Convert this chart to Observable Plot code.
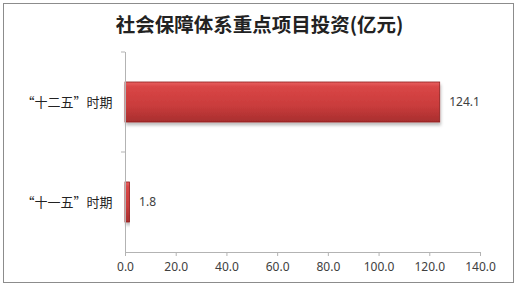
<!DOCTYPE html>
<html>
<head>
<meta charset="utf-8">
<script src="https://cdn.jsdelivr.net/npm/d3@7"></script>
<script src="https://cdn.jsdelivr.net/npm/@observablehq/plot@0.6"></script>
<style>
  html, body { margin: 0; padding: 0; background: #fff; }
  #wrap { position: relative; width: 519px; height: 290px; overflow: hidden; }
  #border { position: absolute; left: 3px; top: 3px; width: 509px; height: 278px; border: 1px solid #8c8c8c; box-sizing: content-box; }
  #title { position: absolute; left: 0; top: 9px; width: 519px; text-align: center;
           font-family: "Noto Sans CJK SC", sans-serif; font-size: 19.5px; font-weight: bold; color: #222; }
  #chart { position: absolute; left: 0; top: 40px; }
</style>
</head>
<body>
<div id="wrap">
  <div id="border"></div>
  <div id="title">社会保障体系重点项目投资(亿元)</div>
  <div id="chart"></div>
</div>
<script>
const periods = ["“十二五”时期", "“十一五”时期"];
const investments = [124.1, 1.8];
const xTicks = [0, 20, 40, 60, 80, 100, 120, 140];

const data = periods.map((p, i) => ({period: p, value: investments[i]}));

const svg = Plot.plot({
  width: 519,
  height: 250,
  marginTop: 12,
  marginBottom: 38,
  marginLeft: 125,
  marginRight: 39,
  style: {fontFamily: "'Noto Sans', 'Noto Sans CJK SC', sans-serif", color: "#404040", background: "transparent"},
  x: {domain: [0, 140], ticks: xTicks, tickFormat: d => d.toFixed(1)},
  y: {domain: periods, paddingInner: 0.6, paddingOuter: 0.3},
  marks: [
    Plot.barX(data, {x: "value", y: "period", fill: "url(#barGrad)", stroke: "#8e1f1f", strokeWidth: 0.8}),
    Plot.text(data, {x: "value", y: "period", text: d => d.value.toFixed(1), dx: 9, textAnchor: "start", fontSize: 12, fill: "#404040"}),
    Plot.axisX({ticks: xTicks, tickFormat: d => d.toFixed(1), tickSize: 4, tickPadding: 6, fontSize: 12, stroke: "#b3b3b3", color: "#404040", label: null}),
    Plot.axisY({tickSize: 0, tickPadding: 13, fontSize: 13, fontFamily: "'Noto Sans CJK SC', sans-serif", color: "#222", label: null}),
    Plot.frame({anchor: "left", stroke: "#b3b3b3"}),
    Plot.frame({anchor: "bottom", stroke: "#b3b3b3"})
  ]
});

svg.insertAdjacentHTML("afterbegin",
  `<defs>
     <linearGradient id="barGrad" x1="0" y1="0" x2="0" y2="1">
       <stop offset="0" stop-color="#e86060"/>
       <stop offset="0.12" stop-color="#d94646"/>
       <stop offset="0.6" stop-color="#c93c3c"/>
       <stop offset="1" stop-color="#a82e2e"/>
     </linearGradient>
     <filter id="shadow" x="-5%" y="-20%" width="110%" height="160%">
       <feDropShadow dx="1" dy="3" stdDeviation="1.5" flood-color="#000" flood-opacity="0.25"/>
     </filter>
   </defs>`);
svg.querySelectorAll('g[aria-label="bar"] rect').forEach(r => r.setAttribute("filter", "url(#shadow)"));

// small category-boundary ticks on the y axis, derived from the band scale
const ys = svg.scale("y"), xs = svg.scale("x");
const x0 = xs.apply(0);
const ns = "http://www.w3.org/2000/svg";
const g = document.createElementNS(ns, "g");
g.setAttribute("stroke", "#b3b3b3");
periods.forEach(p => {
  const yb = ys.apply(p) - ys.step * ys.paddingInner / 2;
  const line = document.createElementNS(ns, "line");
  line.setAttribute("x1", x0 - 4); line.setAttribute("x2", x0);
  line.setAttribute("y1", yb); line.setAttribute("y2", yb);
  g.appendChild(line);
});
svg.appendChild(g);

document.getElementById("chart").appendChild(svg);
</script>
</body>
</html>
